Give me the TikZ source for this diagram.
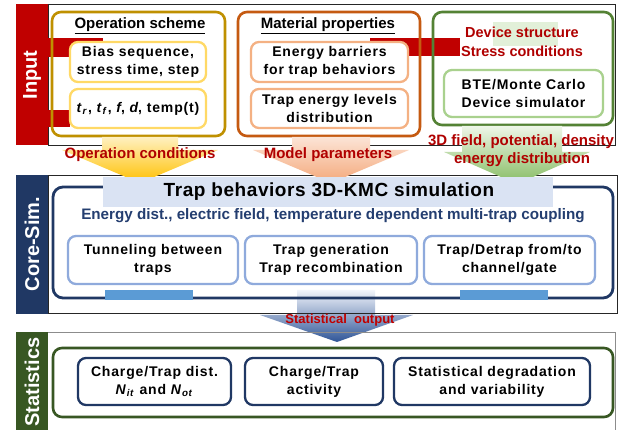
\documentclass[tikz,border=0pt]{standalone}
\usepackage{fontspec}
\setmainfont{Liberation Sans}
\newfontfamily\spc{Liberation Sans}[LetterSpace=6]
\newfontfamily\spt{Liberation Sans}[LetterSpace=3]
\definecolor{inred}{HTML}{C00000}
\definecolor{corenavy}{HTML}{203864}
\definecolor{statgreen}{HTML}{385723}
\definecolor{opgold}{HTML}{BF9000}
\definecolor{opyel}{HTML}{FFD966}
\definecolor{matorg}{HTML}{C55A11}
\definecolor{matlt}{HTML}{F4B183}
\definecolor{devgrn}{HTML}{548235}
\definecolor{devlt}{HTML}{A9D18E}
\definecolor{bannerbl}{HTML}{DAE3F3}
\definecolor{boxbl}{HTML}{8FAADC}
\definecolor{barbl}{HTML}{5B9BD5}
\definecolor{lblred}{HTML}{B00000}
\definecolor{subnavy}{HTML}{243E70}
\definecolor{yelTop}{HTML}{FFF0C0}
\definecolor{yelBot}{HTML}{FFC000}
\definecolor{orgTop}{HTML}{FCE4D6}
\definecolor{orgBot}{HTML}{F4A87A}
\definecolor{grnTop}{HTML}{EEF6E8}
\definecolor{grnBot}{HTML}{86BC62}
\definecolor{stTop}{HTML}{F2F5FB}
\definecolor{stMid}{HTML}{C4D3EC}
\definecolor{stBot}{HTML}{2F5597}
\definecolor{palegrn}{HTML}{E2F0D9}
\begin{document}
\begin{tikzpicture}[x=1pt,y=-1pt,
  every node/.style={inner sep=0pt, outer sep=0pt},
  frame/.style={draw=black!85, line width=0.9pt},
  sidebar/.style={fill=#1, draw=none},
  vlabel/.style={rotate=90, text=white, font=\bfseries\fontsize{20}{24}\selectfont},
  obox/.style={draw=#1, line width=2.6pt, rounded corners=9pt},
  ibox/.style={draw=#1, fill=white, line width=2.3pt, rounded corners=8pt, align=center,
    font={\spc\bfseries\fontsize{14}{18}\selectfont}},
  ttl/.style={font={\bfseries\fontsize{15}{18}\selectfont}},
  lbl/.style={text=lblred, font={\bfseries\fontsize{15}{18}\selectfont}},
  bar/.style={fill=barbl, draw=none}]
\useasboundingbox (0,0) rectangle (625,430);
\fill[white] (0,0) rectangle (625,430);

% statistical output arrow (under frames)
\shade[top color=stTop, middle color=stMid, bottom color=stBot]
  (297,290) -- (375,290) -- (375,315) -- (413,315) -- (337,342) -- (260,315) -- (297,315) -- cycle;

% frames and side bars
\draw[frame] (48,4) rectangle (615,145);
\draw[frame] (48,175) rectangle (617,313);
\draw[draw=black!45, line width=0.9pt] (48,332) -- (615,332) -- (615,432);
\fill[sidebar=inred] (16,4) rectangle (48,145);
\fill[sidebar=corenavy] (16,175) rectangle (48,314);
\fill[sidebar=statgreen] (16,332) rectangle (48,430);
\node[vlabel] (lin) at (32,75) {Input};
\node[vlabel] (lcore) at (32,244) {Core-Sim.};
\node[vlabel] (lstat) at (32,382) {Statistics};

% red bands behind input boxes
\fill[inred] (48,38) rectangle (103,57);
\fill[inred] (48,110) rectangle (70,127);
\fill[inred] (370,38) rectangle (460,56);
\fill[palegrn] (493,22) rectangle (558,46);

% input boxes
\node[obox=opgold, minimum width=173pt, minimum height=124pt] (op) at (138.5,74) {};
\node[ttl] (opt) at (140,26) {\underline{Operation scheme}};
\node[ibox=opyel, minimum width=136pt, minimum height=40pt] (op1) at (138,62) {Bias sequence,\\stress time, step};
\node[ibox=opyel, minimum width=136pt, minimum height=39pt] (op2) at (138,108.5)
  {\textit{t}\textsubscript{\textit{r}}, \textit{t}\textsubscript{\textit{f}}, \textit{f}, \textit{d}, temp(t)};

\node[obox=matorg, minimum width=182pt, minimum height=124pt] (mat) at (329,74) {};
\node[ttl] (matt) at (328,26) {\underline{Material properties}};
\node[ibox=matlt, minimum width=157pt, minimum height=40pt] (mat1) at (329.5,62) {Energy barriers\\for trap behaviors};
\node[ibox=matlt, minimum width=157pt, minimum height=39pt] (mat2) at (329.5,108.5) {Trap energy levels\\distribution};

\node[obox=devgrn, minimum width=180pt, minimum height=113pt] (dev) at (523,68.5) {};
\node[lbl, font={\bfseries\fontsize{14.5}{18}\selectfont}] (dev1) at (522,32) {Device structure};
\node[lbl, font={\bfseries\fontsize{14.5}{18}\selectfont}] (dev2) at (522,51) {Stress conditions};
\node[ibox=devlt, minimum width=159pt, minimum height=47pt] (devs) at (523.5,93.5) {BTE/Monte Carlo\\Device simulator};

% block arrows
\shade[top color=yelTop, bottom color=yelBot]
  (102,137) -- (178,137) -- (178,150) -- (218,150) -- (140,183) -- (62,150) -- (102,150) -- cycle;
\shade[top color=orgTop, bottom color=orgBot]
  (292,137) -- (370,137) -- (370,150) -- (409,150) -- (331,183) -- (253,150) -- (292,150) -- cycle;
\shade[top color=grnTop, bottom color=grnBot]
  (462,126) -- (562,126) -- (562,152) -- (590,152) -- (517,184) -- (444,152) -- (462,152) -- cycle;

\node[lbl] (oc) at (140,155) {Operation conditions};
\node[lbl] (mp) at (328,155) {Model parameters};
\node[lbl] (fd1) at (521,142) {3D field, potential, density};
\node[lbl] (fd2) at (522,160) {energy distribution};

% core simulation
\node[draw=corenavy, line width=2.8pt, rounded corners=10pt, minimum width=560pt, minimum height=111pt] (core) at (333,242.5) {};
\node[fill=bannerbl, minimum width=450pt, minimum height=30pt] (ban) at (328,192) {};
\node[font={\spt\bfseries\fontsize{19}{22}\selectfont}] (bant) at (329,192) {Trap behaviors 3D-KMC simulation};
\node[text=subnavy, font={\bfseries\fontsize{15.2}{17}\selectfont}] (sub) at (333,216)
  {Energy dist., electric field, temperature dependent multi-trap coupling};
\node[ibox=boxbl, minimum width=170pt, minimum height=48pt] (c1) at (153,260) {Tunneling between\\traps};
\node[ibox=boxbl, minimum width=172pt, minimum height=48pt] (c2) at (331,260) {Trap generation\\Trap recombination};
\node[ibox=boxbl, minimum width=171pt, minimum height=48pt] (c3) at (509.5,260) {Trap/Detrap from/to\\channel/gate};
\fill[bar] (105,290) rectangle (193,300);
\fill[bar] (460,290) rectangle (548,300);
\node[text=inred, font={\bfseries\fontsize{13}{16}\selectfont}] (so) at (340,320) {Statistical~~output};

% statistics
\node[draw=statgreen, line width=2.6pt, rounded corners=9pt, minimum width=560pt, minimum height=69pt] (stat) at (333,382.5) {};
\node[ibox=corenavy, minimum width=153pt, minimum height=47pt] (s1) at (154.5,381.5)
  {Charge/Trap dist.\\\textit{N}\textsubscript{\textit{it}} and \textit{N}\textsubscript{\textit{ot}}};
\node[ibox=corenavy, minimum width=138pt, minimum height=47pt] (s2) at (314,381.5) {Charge/Trap\\activity};
\node[ibox=corenavy, minimum width=196pt, minimum height=47pt] (s3) at (492,381.5) {Statistical degradation\\and variability};
\end{tikzpicture}
\end{document}
